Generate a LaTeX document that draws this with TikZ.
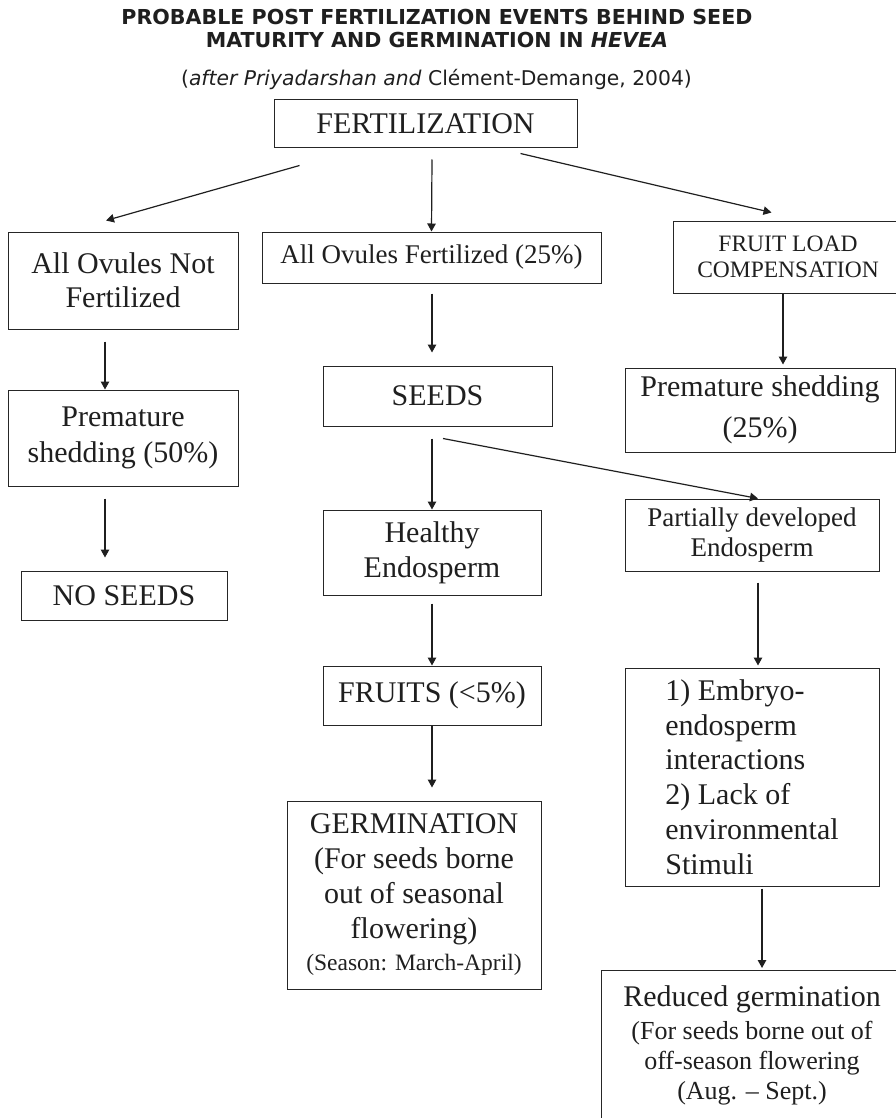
\documentclass[tikz,border=0pt]{standalone}
\usepackage{fontspec}
\setmainfont{Liberation Serif}
\newfontfamily\verdfont{DejaVu Sans}
\usepackage{tikz}
\usetikzlibrary{arrows.meta,calc}

\begin{document}
\begin{tikzpicture}[x=1pt,y=-1pt,
  box/.style={draw=black!85,line width=1pt,inner sep=0pt,align=center,text=black!88,
    font=\fontsize{30}{35}\selectfont},
  arr/.style={-{Triangle[length=8pt,width=8.5pt]},line width=1.2pt,draw=black!88}]
  \useasboundingbox (0,0) rectangle (896,1118);
  \clip (0,0) rectangle (896,1118);
  % heading
  \node[font=\verdfont\bfseries\fontsize{20.6}{23}\selectfont,align=center,text=black!88] (title) at (437,29)
    {PROBABLE POST FERTILIZATION EVENTS BEHIND SEED\\MATURITY AND GERMINATION IN \textit{HEVEA}};
  \node[font=\verdfont\fontsize{20.3}{24}\selectfont,text=black!88] (src) at (436.5,79)
    {(\textit{after Priyadarshan and} Clément-Demange, 2004)};
  % boxes
  \node[box,minimum width=303pt,minimum height=48pt] (fert) at (425.5,124) {FERTILIZATION};
  \node[box,minimum width=230pt,minimum height=97pt,font=\fontsize{30}{34}\selectfont] (notfert) at (123,280.5) {All Ovules Not\\Fertilized};
  \node[box,minimum width=339pt,minimum height=51pt,font=\fontsize{27}{32}\selectfont] (allfert) at (431.5,257.5) {All Ovules Fertilized (25\%)};
  \node[box,minimum width=230pt,minimum height=72pt,font=\fontsize{23.5}{26}\selectfont] (fruitload) at (788,257) {FRUIT LOAD\\COMPENSATION};
  \node[box,minimum width=270pt,minimum height=84pt,font=\fontsize{30}{41}\selectfont] (premfl) at (760,410) {Premature shedding\\(25\%)};
  \node[box,minimum width=230pt,minimum height=96pt,font=\fontsize{30}{36}\selectfont] (prem50) at (123,438) {Premature\\shedding (50\%)};
  \node[box,minimum width=206pt,minimum height=49pt] (noseeds) at (124,595.5) {NO SEEDS};
  \node[box,minimum width=229pt,minimum height=60pt] (seeds) at (437.5,396) {SEEDS};
  \node[box,minimum width=218pt,minimum height=85pt] (healthy) at (432,552.5) {Healthy\\Endosperm};
  \node[box,minimum width=254pt,minimum height=72pt,font=\fontsize{27}{30}\selectfont] (partial) at (752,535) {Partially developed\\Endosperm};
  \node[box,minimum width=218pt,minimum height=59pt] (fruits) at (432,695.5) {FRUITS (<5\%)};
  \node[box,minimum width=254pt,minimum height=188pt] (germ) at (414,895)
    {GERMINATION\\(For seeds borne\\out of seasonal\\flowering)\\[-3pt]{\fontsize{23.5}{28}\selectfont(Season: March-April)}};
  \node[box,minimum width=254pt,minimum height=218pt,align=left,font=\fontsize{30}{34.7}\selectfont] (embryo) at (752,777)
    {1) Embryo-\\endosperm\\interactions\\2) Lack of\\environmental\\Stimuli};
  \node[box,anchor=north,minimum width=302pt,inner ysep=15pt,text depth=90pt] (reduced) at (752,970)
    {Reduced germination\\[-2pt]{\fontsize{26}{30}\selectfont(For seeds borne out of}\\[-5pt]{\fontsize{26}{30}\selectfont off-season flowering}\\[-5pt]{\fontsize{26}{30}\selectfont(Aug. – Sept.)}};
  % arrows
  \draw[arr] ($(fert.south west)+(26,17)$) -- ($(notfert.north)+(-17,-11)$);
  \draw[arr] ($(fert.south)+(6.5,11)$) -- (allfert.north);
  \draw[arr] ($(fert.south east)+(-57,5)$) -- ($(fruitload.north west)+(99,-8)$);
  \draw[arr] ($(notfert.south)+(-18,12)$) -- ($(prem50.north)+(-18,0)$);
  \draw[arr] ($(prem50.south)+(-18,12)$) -- ($(noseeds.north)+(-19,-13)$);
  \draw[arr] ($(allfert.south)+(0.5,10)$) -- ($(seeds.north)+(-5.5,-13)$);
  \draw[arr] ($(fruitload.south)+(-5,0)$) -- ($(premfl.north)+(23,-3)$);
  \draw[arr] ($(seeds.south)+(-5.5,12)$) -- (healthy.north);
  \draw[arr] ($(seeds.south)+(5.5,12)$) -- ($(partial.north)+(6,0)$);
  \draw[arr] ($(healthy.south)+(0,8)$) -- (fruits.north);
  \draw[arr] (fruits.south) -- ($(germ.north)+(18,-13)$);
  \draw[arr] ($(partial.south)+(6,11)$) -- ($(embryo.north)+(6,-2)$);
  \draw[arr] ($(embryo.south)+(10,2)$) -- ($(reduced.north)+(10,-2)$);
\end{tikzpicture}
\end{document}
